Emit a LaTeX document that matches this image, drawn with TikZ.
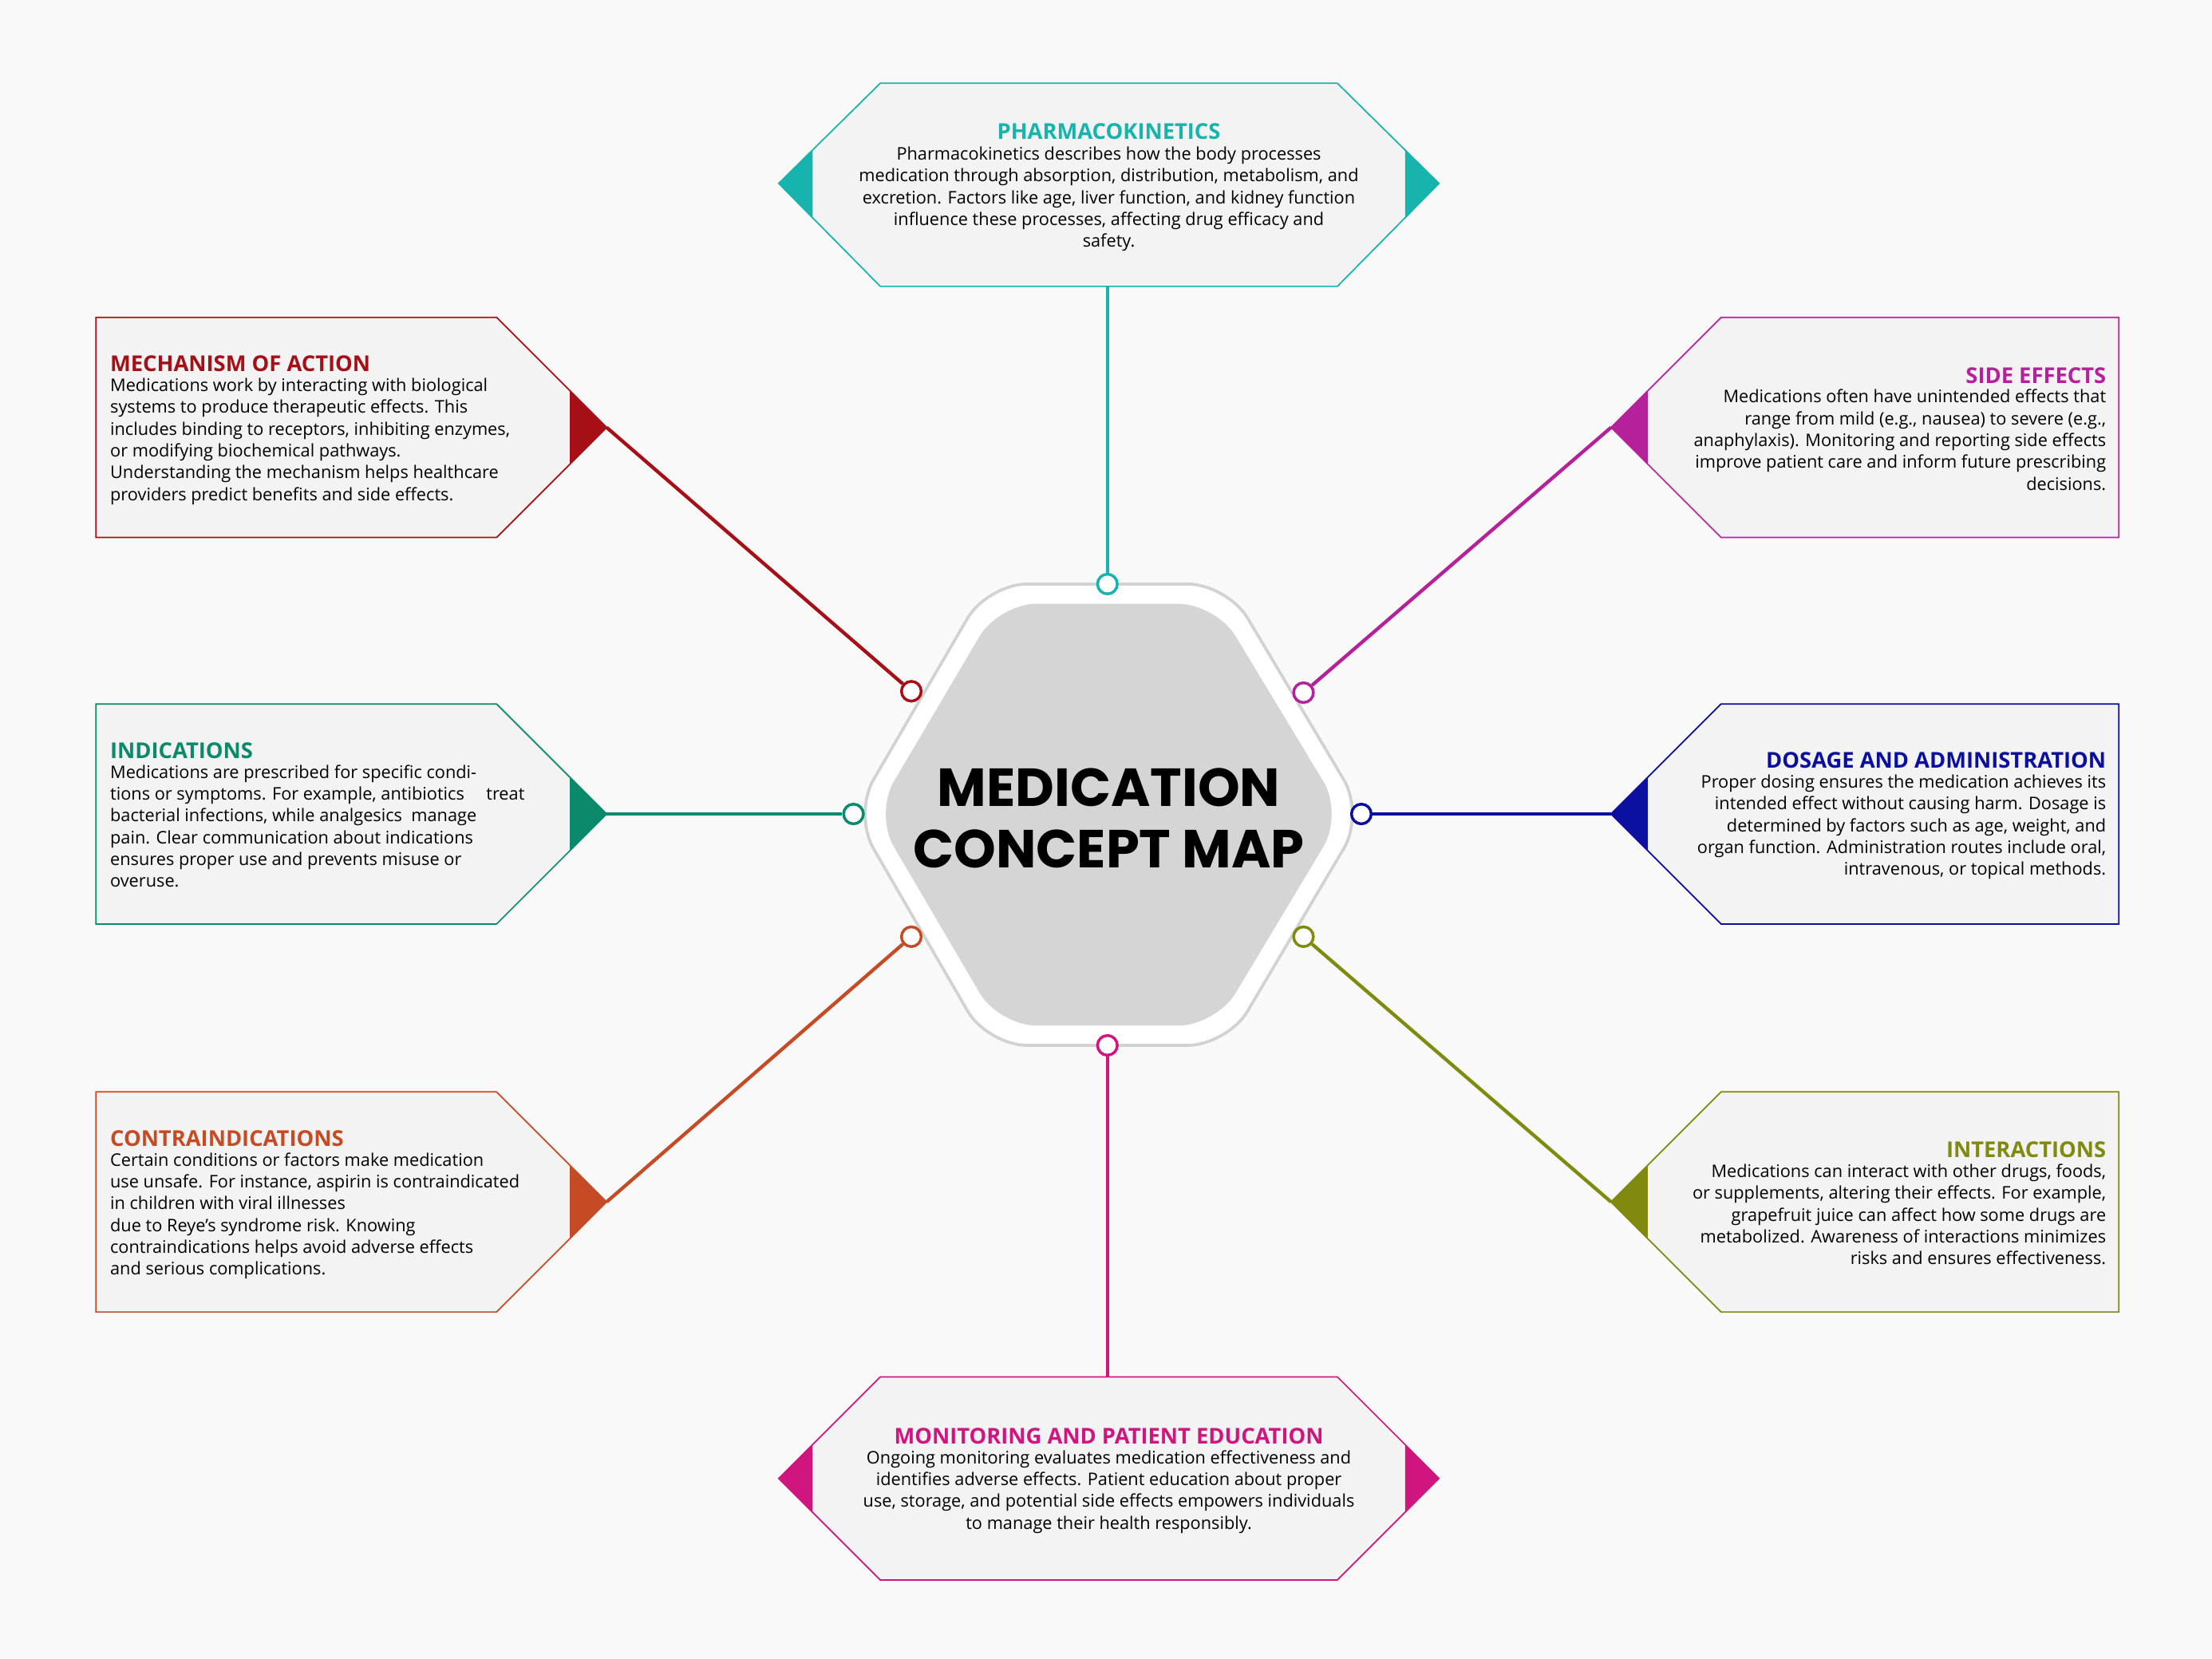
\documentclass[tikz,border=0pt]{standalone}
\usepackage{fontspec}
\setmainfont{Open Sans}
\newfontfamily\titlefont{Poppins}
\usetikzlibrary{positioning}

\definecolor{bgc}{HTML}{F9F9F9}
\definecolor{boxc}{HTML}{F3F3F3}
\definecolor{hexc}{HTML}{D5D5D5}
\definecolor{ringc}{HTML}{D2D2D2}
\definecolor{pkc}{HTML}{17B3AD}
\definecolor{mechc}{HTML}{A50F15}
\definecolor{indc}{HTML}{0A8A6A}
\definecolor{contc}{HTML}{C44B24}
\definecolor{sidec}{HTML}{B5219A}
\definecolor{dosec}{HTML}{0A0FA0}
\definecolor{interc}{HTML}{808A0E}
\definecolor{monc}{HTML}{D0157F}

\tikzset{
 pin/.style={circle,draw=#1,fill=white,line width=2.8pt,inner sep=0pt,minimum size=7mm},
 link/.style={draw=#1,line width=3.5pt},
 frame/.style={draw=#1,fill=boxc,line width=1.4pt},
 body/.style={inner sep=0pt,font=\fontsize{17.5}{22}\selectfont},
 head/.style={inner sep=0pt,font=\fontsize{22}{26}\selectfont\bfseries,text=#1}
}

\begin{document}
\begin{tikzpicture}[x=0.5mm,y=-0.5mm]
 \fill[bgc](0,0) rectangle (1568,1176);
 \useasboundingbox (0,0) rectangle (1568,1176);
 % centre
 \draw[ringc,line width=3pt,fill=white,rounded corners=40](700,414)--(870,414)--(967,577)--(870,741)--(700,741)--(605,577)--cycle;
 \fill[hexc,rounded corners=38](708,428)--(862,428)--(952,577)--(862,727)--(708,727)--(620,577)--cycle;
 \node[font=\titlefont\fontsize{54}{62}\selectfont\bfseries,align=center] (title) at (786,580) {MEDICATION\\CONCEPT MAP};
 % pins
 \node[pin=pkc] (cP) at (785,414) {};
 \node[pin=monc] (cO) at (785,741) {};
 \node[pin=indc] (cI) at (605,577) {};
 \node[pin=dosec] (cD) at (965,577) {};
 \node[pin=mechc] (cM) at (646,490) {};
 \node[pin=sidec] (cS) at (924,491) {};
 \node[pin=contc] (cC) at (646,664) {};
 \node[pin=interc] (cX) at (924,664) {};
 % top and bottom boxes
 \draw[frame=pkc](552,130)--(624,59)--(948,59)--(1020,130)--(948,203)--(624,203)--cycle;
 \fill[pkc](552,130)--(576,106)--(576,155)--cycle;
 \fill[pkc](1020,130)--(996,106)--(996,155)--cycle;
 \coordinate (tP) at (785,203);
 \node[head=pkc] (hP) at (786,93) {PHARMACOKINETICS};
 \node[body,align=center,anchor=north] (bP) at (786,104) {Pharmacokinetics describes how the body processes\\medication through absorption, distribution, metabolism, and\\excretion. Factors like age, liver function, and kidney function\\influence these processes, affecting drug efficacy and\\safety.};
 \draw[frame=monc](552,1048)--(624,976)--(948,976)--(1020,1048)--(948,1120)--(624,1120)--cycle;
 \fill[monc](552,1048)--(576,1024)--(576,1072)--cycle;
 \fill[monc](1020,1048)--(996,1024)--(996,1072)--cycle;
 \coordinate (tO) at (785,976);
 \node[head=monc] (hO) at (786,1018) {MONITORING AND PATIENT EDUCATION};
 \node[body,align=center,anchor=north] (bO) at (786,1028) {Ongoing monitoring evaluates medication effectiveness and\\identifies adverse effects. Patient education about proper\\use, storage, and potential side effects empowers individuals\\to manage their health responsibly.};
 % left boxes
 \draw[frame=mechc](68,225)--(352,225)--(430,303)--(352,381)--(68,381)--cycle;
 \fill[mechc](404,277)--(430,303)--(404,329)--cycle;
 \coordinate (tM) at (430,303);
 \node[head=mechc,anchor=west] (hM) at (78,258) {MECHANISM OF ACTION};
 \node[body,align=left,anchor=north west] (bM) at (78,268) {Medications work by interacting with biological\\systems to produce therapeutic effects. This\\includes binding to receptors, inhibiting enzymes,\\or modifying biochemical pathways.\\Understanding the mechanism helps healthcare\\providers predict benefits and side effects.};
 \draw[frame=indc](68,499)--(352,499)--(430,577)--(352,655)--(68,655)--cycle;
 \fill[indc](404,551)--(430,577)--(404,603)--cycle;
 \coordinate (tI) at (430,577);
 \node[head=indc,anchor=west] (hI) at (78,532) {INDICATIONS};
 \node[body,align=left,anchor=north west] (bI) at (78,542) {Medications are prescribed for specific condi-\\tions or symptoms. For example, antibiotics\quad\ treat\\bacterial infections, while analgesics\ \ manage\\pain. Clear communication about indications\\ensures proper use and prevents misuse or\\overuse.};
 \draw[frame=contc](68,774)--(352,774)--(430,852)--(352,930)--(68,930)--cycle;
 \fill[contc](404,826)--(430,852)--(404,878)--cycle;
 \coordinate (tC) at (430,852);
 \node[head=contc,anchor=west] (hC) at (78,807) {CONTRAINDICATIONS};
 \node[body,align=left,anchor=north west] (bC) at (78,817) {Certain conditions or factors make medication\\use unsafe. For instance, aspirin is contraindicated\\in children with viral illnesses\\due to Reye’s syndrome risk. Knowing\\contraindications helps avoid adverse effects\\and serious complications.};
 % right boxes
 \draw[frame=sidec](1502,225)--(1220,225)--(1142,303)--(1220,381)--(1502,381)--cycle;
 \fill[sidec](1168,277)--(1142,303)--(1168,329)--cycle;
 \coordinate (tS) at (1142,303);
 \node[head=sidec,anchor=east] (hS) at (1493,266) {SIDE EFFECTS};
 \node[body,align=right,anchor=north east] (bS) at (1493,276) {Medications often have unintended effects that\\range from mild (e.g., nausea) to severe (e.g.,\\anaphylaxis). Monitoring and reporting side effects\\improve patient care and inform future prescribing\\decisions.};
 \draw[frame=dosec](1502,499)--(1220,499)--(1142,577)--(1220,655)--(1502,655)--cycle;
 \fill[dosec](1168,551)--(1142,577)--(1168,603)--cycle;
 \coordinate (tD) at (1142,577);
 \node[head=dosec,anchor=east] (hD) at (1493,539) {DOSAGE AND ADMINISTRATION};
 \node[body,align=right,anchor=north east] (bD) at (1493,549) {Proper dosing ensures the medication achieves its\\intended effect without causing harm. Dosage is\\determined by factors such as age, weight, and\\organ function. Administration routes include oral,\\intravenous, or topical methods.};
 \draw[frame=interc](1502,774)--(1220,774)--(1142,852)--(1220,930)--(1502,930)--cycle;
 \fill[interc](1168,826)--(1142,852)--(1168,878)--cycle;
 \coordinate (tX) at (1142,852);
 \node[head=interc,anchor=east] (hX) at (1493,815) {INTERACTIONS};
 \node[body,align=right,anchor=north east] (bX) at (1493,825) {Medications can interact with other drugs, foods,\\or supplements, altering their effects. For example,\\grapefruit juice can affect how some drugs are\\metabolized. Awareness of interactions minimizes\\risks and ensures effectiveness.};
 % connectors
 \draw[link=pkc](tP)--(cP);
 \draw[link=monc](tO)--(cO);
 \draw[link=mechc](tM)--(cM);
 \draw[link=indc](tI)--(cI);
 \draw[link=contc](tC)--(cC);
 \draw[link=sidec](tS)--(cS);
 \draw[link=dosec](tD)--(cD);
 \draw[link=interc](tX)--(cX);
\end{tikzpicture}
\end{document}
